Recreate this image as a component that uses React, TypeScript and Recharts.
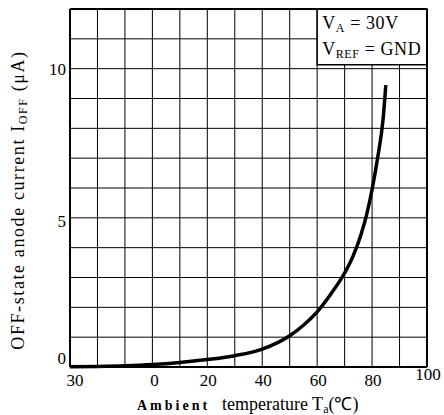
import React from 'react';
import {
  LineChart,
  Line,
  XAxis,
  YAxis,
  CartesianGrid,
  ReferenceArea,
  ReferenceLine,
  Label,
} from 'recharts';

// ambient temperature (°C) and OFF-state anode current (µA)
const temps = [-30, -20, -10, 0, 10, 20, 30, 40, 50, 55, 60, 65, 70, 73, 76, 78, 80, 82, 84, 85];
const current = [0.01, 0.02, 0.04, 0.08, 0.15, 0.25, 0.38, 0.6, 1.05, 1.4, 1.85, 2.45, 3.15, 3.7, 4.45, 5.1, 5.95, 7.0, 8.3, 9.45];

const xTicks = [-30, -20, -10, 0, 10, 20, 30, 40, 50, 60, 70, 80, 90, 100];
const xLabels: Record<number, string> = { [-30]: '30', 0: '0', 20: '20', 40: '40', 60: '60', 80: '80', 100: '100' };
const yTicks = [0, 1, 2, 3, 4, 5, 6, 7, 8, 9, 10, 11, 12];
const yLabels: Record<number, string> = { 0: '0', 5: '5', 10: '10' };

const data = temps.map((t, i) => ({ t, i: current[i] }));

const FONT = 'Liberation Serif, Times New Roman, Times, serif';

const XTick = (props: any) => {
  const { x, payload } = props;
  const label = xLabels[payload.value];
  if (label === undefined) return null;
  const dx = payload.value === -30 ? 5 : payload.value === 0 ? 2 : 1;
  const y = payload.value === 100 ? 380 : 386;
  return (
    <text x={x + dx} y={y} textAnchor="middle" fontSize={17} fill="#000" style={{ fontFamily: FONT }}>
      {label}
    </text>
  );
};

const YTick = (props: any) => {
  const { y, payload } = props;
  const label = yLabels[payload.value];
  if (label === undefined) return null;
  const dy = payload.value === 0 ? -3 : payload.value === 5 ? 9 : 6;
  return (
    <text x={66} y={y + dy} textAnchor="end" fontSize={17} fill="#000" style={{ fontFamily: FONT }}>
      {label}
    </text>
  );
};

const YTitle = () => (
  <text
    transform="translate(24,200) rotate(-90)"
    textAnchor="middle"
    fontSize={18}
    letterSpacing={1.6}
    fill="#000"
    style={{ fontFamily: FONT }}
  >
    OFF-state anode current I
    <tspan fontSize={12} dy={3}>OFF</tspan>
    <tspan dy={-3}> (μA)</tspan>
  </text>
);

const XTitle = () => (
  <text x={137} y={410} fill="#000" style={{ fontFamily: FONT }}>
    <tspan fontSize={14} fontWeight="bold" letterSpacing={3}>Ambient</tspan>
    <tspan x={222} fontSize={18}>temperature T</tspan>
    <tspan fontSize={12} dy={3}>a</tspan>
    <tspan fontSize={18} dy={-3}>(℃)</tspan>
  </text>
);

const BoxText = (props: any) => {
  const { viewBox } = props;
  const x = viewBox.x + 5;
  const y = viewBox.y;
  return (
    <g fill="#000" style={{ fontFamily: FONT }}>
      <text x={x} y={y + 20} fontSize={18} letterSpacing={0.6}>
        V<tspan fontSize={12} dy={3}>A</tspan>
        <tspan dy={-3}> = 30V</tspan>
      </text>
      <text x={x} y={y + 46} fontSize={18} letterSpacing={0.6}>
        V<tspan fontSize={12} dy={3}>REF</tspan>
        <tspan dy={-3}> = GND</tspan>
      </text>
    </g>
  );
};

export default function App() {
  return (
    <div style={{ position: 'absolute', left: 0, top: 0, background: '#fff' }}>
      <LineChart
        width={444}
        height={415}
        data={data}
        margin={{ top: 9, right: 17, left: 0, bottom: 0 }}
        style={{ fontFamily: FONT }}
      >
        <CartesianGrid stroke="#000" strokeWidth={1} strokeDasharray="" />
        <XAxis
          dataKey="t"
          type="number"
          domain={[-30, 100]}
          ticks={xTicks}
          interval={0}
          height={48}
          tickLine={false}
          axisLine={{ stroke: '#000', strokeWidth: 2 }}
          tick={<XTick />}
        >
          <Label content={<XTitle />} />
        </XAxis>
        <YAxis
          type="number"
          domain={[0, 12]}
          ticks={yTicks}
          interval={0}
          width={70}
          tickLine={false}
          axisLine={{ stroke: '#000', strokeWidth: 2 }}
          tick={<YTick />}
        >
          <Label content={<YTitle />} />
        </YAxis>
        <ReferenceLine y={12} stroke="#000" strokeWidth={2} />
        <ReferenceLine x={100} stroke="#000" strokeWidth={2} />
        <ReferenceArea
          x1={60}
          x2={100}
          y1={10.13}
          y2={12}
          fill="#fff"
          fillOpacity={1}
          stroke="#000"
          strokeWidth={1.5}
        >
          <Label content={<BoxText />} />
        </ReferenceArea>
        <Line
          type="monotone"
          dataKey="i"
          stroke="#000"
          strokeWidth={3.5}
          dot={false}
          isAnimationActive={false}
        />
      </LineChart>
    </div>
  );
}
